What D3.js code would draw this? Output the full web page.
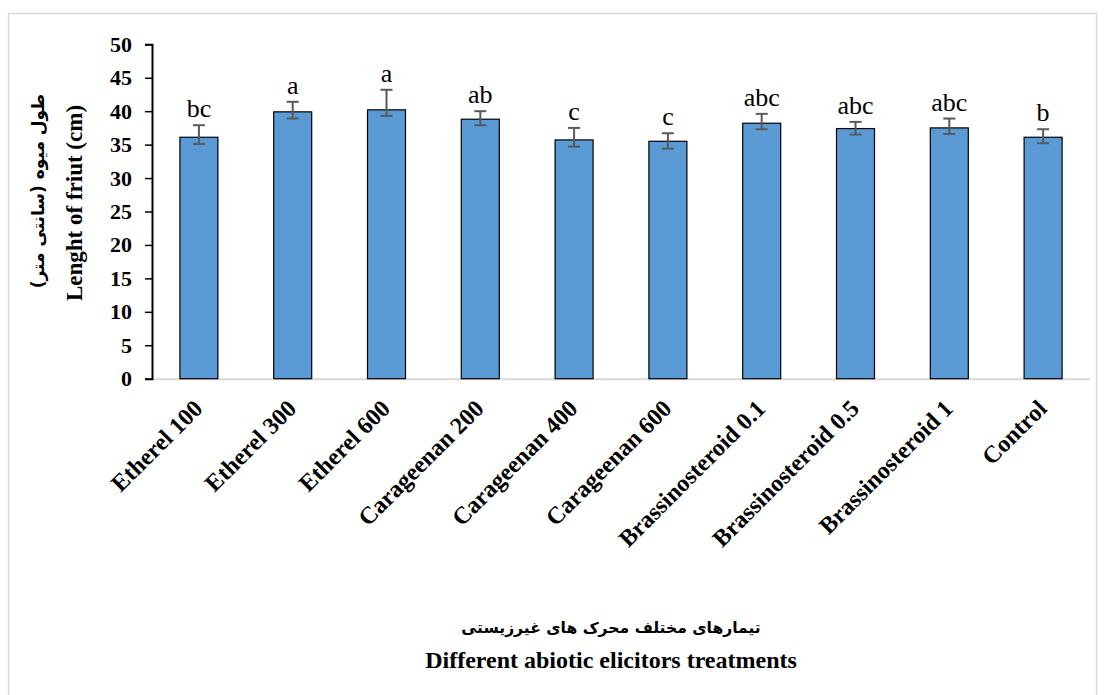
<!DOCTYPE html>
<html><head><meta charset="utf-8">
<script src="https://cdn.jsdelivr.net/npm/d3@7"></script>
<style>
html,body{margin:0;padding:0;background:#fff;}
svg{display:block;}
</style></head>
<body>
<script>
const categories = ["Etherel 100","Etherel 300","Etherel 600","Carageenan 200","Carageenan 400","Carageenan 600","Brassinosteroid 0.1","Brassinosteroid 0.5","Brassinosteroid 1","Control"];
const values  = [36.1, 39.9, 40.2, 38.8, 35.7, 35.5, 38.2, 37.4, 37.5, 36.1];
const errUp   = [1.8, 1.5, 3.0, 1.2, 1.8, 1.2, 1.4, 1.0, 1.4, 1.2];
const errDown = [1.0, 1.0, 0.9, 0.9, 1.0, 1.1, 0.9, 0.9, 0.9, 0.9];
const letters = ["bc","a","a","ab","c","c","abc","abc","abc","b"];
const yTicks  = [0,5,10,15,20,25,30,35,40,45,50];
const yTitleEn = "Lenght of friut (cm)";
const yTitleFa = "طول میوه (سانتی متر)";
const xTitleEn = "Different abiotic elicitors treatments";
const xTitleFa = "تیمارهای مختلف محرک های غیرزیستی";

const W = 1104, H = 695;
const svg = d3.select("body").append("svg").attr("width", W).attr("height", H);
const serif = "'Liberation Serif','Times New Roman',serif";

// outer border
svg.append("rect").attr("x", 8.5).attr("y", 13.5).attr("width", 1088).attr("height", 700)
  .attr("fill", "none").attr("stroke", "#d9d9d9").attr("stroke-width", 1.5);

const x = d3.scaleBand().domain(categories).range([152, 1090]).paddingInner(0.595).paddingOuter(0.2975);
const y = d3.scaleLinear().domain([0, 50]).range([378.7, 44.3]);

// x axis line (light gray)
const xAxis = d3.axisBottom(x).tickSize(0).tickFormat("");
const gx = svg.append("g").attr("transform", `translate(0,${y(0)})`).call(xAxis);
gx.select(".domain").attr("stroke", "#d9d9d9").attr("stroke-width", 2);

// bars
const data = categories.map((c, i) => ({c, v: values[i], up: errUp[i], dn: errDown[i], l: letters[i]}));
svg.append("g").selectAll("rect").data(data).join("rect")
  .attr("x", d => x(d.c)).attr("width", x.bandwidth())
  .attr("y", d => y(d.v)).attr("height", d => y(0) - y(d.v))
  .attr("fill", "#5B9BD5").attr("stroke", "#000").attr("stroke-width", 1.2);

// y axis
const gy = svg.append("g").attr("transform", "translate(152,0)")
  .call(d3.axisLeft(y).tickValues(yTicks).tickSize(7).tickPadding(13));
gy.select(".domain").attr("stroke", "#000").attr("stroke-width", 2);
gy.selectAll(".tick line").attr("stroke", "#000").attr("stroke-width", 1.5);
gy.selectAll(".tick text").attr("font-family", serif).attr("font-weight", "bold")
  .attr("font-size", 22).attr("fill", "#000");

// error bars
const eb = svg.append("g").attr("stroke", "#595959").attr("stroke-width", 2);
data.forEach(d => {
  const cx = x(d.c) + x.bandwidth() / 2;
  const t = y(d.v + d.up), b = y(d.v - d.dn);
  eb.append("line").attr("x1", cx).attr("x2", cx).attr("y1", t).attr("y2", b);
  eb.append("line").attr("x1", cx - 6).attr("x2", cx + 6).attr("y1", t).attr("y2", t);
  eb.append("line").attr("x1", cx - 6).attr("x2", cx + 6).attr("y1", b).attr("y2", b);
});

// letters
svg.append("g").selectAll("text").data(data).join("text")
  .attr("x", d => x(d.c) + x.bandwidth() / 2)
  .attr("y", d => y(d.v + d.up) - 8)
  .attr("text-anchor", "middle").attr("font-family", serif).attr("font-size", 26)
  .attr("fill", "#000").text(d => d.l);

// x labels rotated
svg.append("g").selectAll("text").data(categories).join("text")
  .attr("transform", d => `translate(${x(d) + x.bandwidth() / 2 + 5},410) rotate(-45)`)
  .attr("text-anchor", "end").attr("font-family", serif).attr("font-weight", "bold")
  .attr("font-size", 24).attr("fill", "#000").text(d => d);

// y titles
svg.append("text").attr("transform", "translate(82,203) rotate(-90)")
  .attr("text-anchor", "middle").attr("font-family", serif).attr("font-weight", "bold")
  .attr("font-size", 23).attr("fill", "#000").text(yTitleEn);
svg.append("text").attr("transform", "translate(44,191) rotate(-90)")
  .attr("text-anchor", "middle").attr("font-family", "'DejaVu Sans',sans-serif").attr("font-weight", "bold")
  .attr("font-size", 17).attr("fill", "#000").attr("direction", "rtl").text(yTitleFa);

// x titles
svg.append("text").attr("x", 611).attr("y", 633)
  .attr("text-anchor", "middle").attr("font-family", "'DejaVu Sans',sans-serif").attr("font-weight", "bold")
  .attr("font-size", 15.6).attr("fill", "#000").attr("direction", "rtl").text(xTitleFa);
svg.append("text").attr("x", 611).attr("y", 668)
  .attr("text-anchor", "middle").attr("font-family", serif).attr("font-weight", "bold")
  .attr("font-size", 24).attr("fill", "#000").text(xTitleEn);
</script>
</body></html>
